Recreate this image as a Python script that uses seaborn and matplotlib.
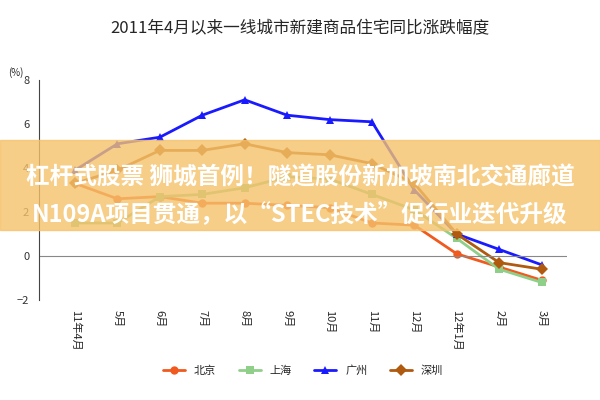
import matplotlib
matplotlib.use("Agg")
import matplotlib.pyplot as plt
import seaborn as sns
import pandas as pd

months = ["11年4月", "5月", "6月", "7月", "8月", "9月", "10月", "11月", "12月", "12年1月", "2月", "3月"]
beijing = [3.3, 2.6, 2.7, 2.4, 2.4, 2.3, 2.2, 1.5, 1.4, 0.1, -0.5, -1.1]
shanghai = [1.5, 1.5, 2.7, 2.8, 3.1, 3.6, 3.5, 2.8, 2.1, 0.8, -0.6, -1.2]
guangzhou = [3.9, 5.1, 5.4, 6.4, 7.1, 6.4, 6.2, 6.1, 3.0, 1.0, 0.3, -0.4]
shenzhen = [3.3, 3.9, 4.8, 4.8, 5.1, 4.7, 4.6, 4.2, 3.3, 1.0, -0.3, -0.6]

cities = ["北京", "上海", "广州", "深圳"]
colors = ["#f05a1e", "#8fcf8a", "#1a1aff", "#b05a10"]
markers = ["o", "s", "^", "D"]

rows = []
for city, vals in zip(cities, [beijing, shanghai, guangzhou, shenzhen]):
    for i, v in enumerate(vals):
        rows.append({"idx": i, "city": city, "val": v})
df = pd.DataFrame(rows)

sns.set_style("white")
plt.rcParams['font.family'] = ['Noto Sans CJK SC', 'DejaVu Sans']

fig, ax = plt.subplots(figsize=(6, 4), dpi=100)
fig.subplots_adjust(left=0.065, right=0.945, top=0.80, bottom=0.25)
sns.lineplot(data=df, x="idx", y="val", hue="city", style="city",
             palette=colors, markers=markers, dashes=False, markersize=6,
             markeredgewidth=0, linewidth=2, ax=ax)

ax.set_xlim(-0.85, 11.6)
ax.set_ylim(-2, 8)
ax.set_yticks([-2, 0, 2, 4, 6, 8])
ax.set_xticks(range(len(months)))
ax.set_xticklabels(months, rotation=-90, fontsize=8)
ax.tick_params(axis="y", labelsize=8, colors="#333333")
ax.axhline(0, color="#888888", lw=0.8)
for s in ["top", "right", "bottom"]:
    ax.spines[s].set_visible(False)
ax.spines["left"].set_color("#444444")
ax.set_xlabel("")
ax.set_ylabel("")
ax.text(-0.03, 1.02, "(%)", transform=ax.transAxes, fontsize=7, ha="right")

fig.suptitle("2011年4月以来一线城市新建商品住宅同比涨跌幅度", fontsize=12, y=0.95)
ax.legend(loc="center", bbox_to_anchor=(0.5, -0.32), ncol=4, frameon=False,
          fontsize=8, handlelength=2)

# overlaid banner
fig.patches.append(plt.Rectangle((0, 0.425), 1, 0.225, transform=fig.transFigure,
                                 color="#f5c26b", alpha=0.8, zorder=5))
fig.text(0.5, 0.555, "杠杆式股票 狮城首例！隧道股份新加坡南北交通廊道", ha="center", va="center",
         color="white", fontsize=17, fontweight="bold", zorder=6)
fig.text(0.5, 0.465, "N109A项目贯通，以“STEC技术”促行业迭代升级", ha="center", va="center",
         color="white", fontsize=17, fontweight="bold", zorder=6)

fig.savefig("out.png", dpi=100)
